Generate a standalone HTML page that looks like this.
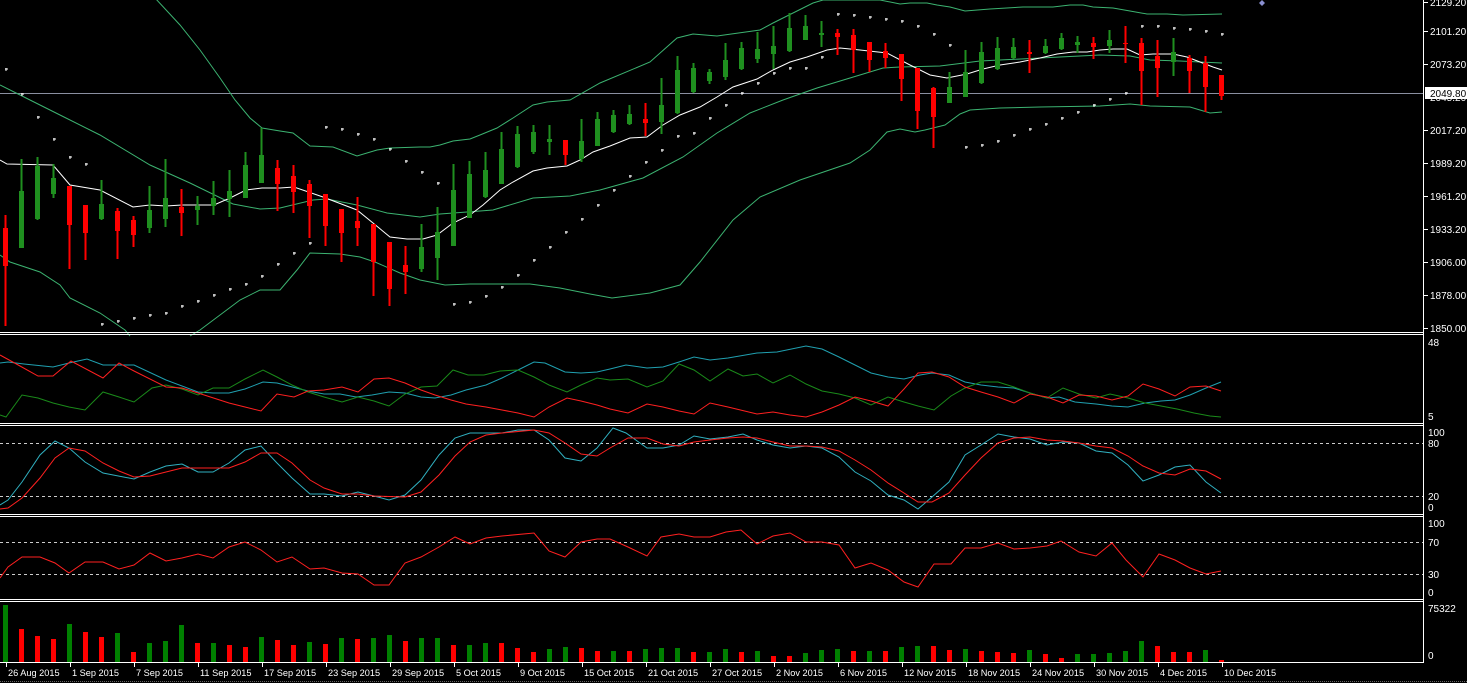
<!DOCTYPE html>
<html><head><meta charset="utf-8"><style>
html,body{margin:0;padding:0;background:#000;}
svg{display:block;font-family:"Liberation Sans",sans-serif;}
</style></head><body>
<svg id="c" width="1467" height="683" viewBox="0 0 1467 683" xmlns="http://www.w3.org/2000/svg">
<rect width="1467" height="683" fill="#000"/>
<g id="g"></g>
</svg>
<script>
var NS="http://www.w3.org/2000/svg",G=document.getElementById('g');
function el(t,a,txt){var e=document.createElementNS(NS,t);for(var k in a)e.setAttribute(k,a[k]);if(txt!=null)e.textContent=txt;G.appendChild(e);return e;}
function pl(pts,col,w){var s=[];for(var i=0;i<pts.length;i+=2)s.push(pts[i]+","+pts[i+1]);el('polyline',{points:s.join(' '),fill:'none',stroke:col,'stroke-width':w||1});}
el('line',{x1:0,y1:93.5,x2:1424,y2:93.5,stroke:'#8a8fa0','stroke-width':1});
pl([155,-2,180,25,200,50,220,78,235,100,250,118,262,128,280,131,293,133,310,146,333,147,357,156,377,150,390,148,420,147,430,147,440,145,453,141,470,139,480,135,497,128,513,118,533,105,547,102,570,100,600,83,650,62,677,38,693,34,717,36,760,30,773,23,813,3,823,0,880,0,900,4,910,3,927,3,937,5,950,7,965,11,990,9,1023,7,1053,7,1070,5,1083,5,1093,7,1113,8,1130,11,1147,14,1167,14,1183,15,1222,14],'#3cb371');
pl([0,85,30,100,60,115,100,135,150,165,190,183,233,204,260,209,280,208,313,200,327,199,357,205,387,213,420,217,440,214,467,212,493,210,533,198,570,196,600,190,643,178,683,157,717,133,750,113,783,100,817,88,850,78,883,68,900,67,940,66,980,61,1000,60,1060,57,1100,55,1130,56,1150,60,1180,61,1200,62,1222,63],'#3cb371');
pl([0,255,10,262,40,272,60,285,70,298,100,313,125,330,130,336],'#3cb371');
pl([190,336,200,330,240,300,260,290,280,290,297,270,310,253,340,254,360,257,375,262,400,273,420,280,445,285,470,284,530,284,560,288,590,294,612,298,650,293,680,285,700,262,733,220,760,197,800,180,850,163,870,150,887,132,900,129,915,132,925,130,945,125,960,114,970,110,1000,108,1040,107,1100,106,1130,104,1150,106,1190,107,1200,110,1210,113,1222,112],'#3cb371');
pl([0,160,7,164,53,165,70,185,100,190,133,207,150,205,166,206,182,205,214,205,230,198,246,190,262,188,280,188,294,187,323,197,357,210,373,223,390,237,407,239,423,239,437,235,453,223,470,215,483,205,500,190,513,182,533,171,547,168,567,166,580,160,593,152,610,146,630,138,647,137,663,125,680,115,700,107,717,97,733,87,757,79,773,70,790,62,807,57,827,50,840,48,860,50,887,53,910,65,930,75,947,78,967,74,983,69,1000,65,1020,62,1040,58,1057,54,1073,52,1087,52,1100,50,1113,49,1127,49,1140,55,1153,54,1173,54,1187,57,1200,62,1213,67,1222,70],'#fff');
var C=[[215,228,266,326,0],[159,191,248,248,1],[157,166,219,220,1],[164,178,194,198,1],[186,186,225,269,0],[205,205,233,260,0],[180,204,219,220,1],[208,211,231,259,0],[216,220,235,247,0],[186,210,228,233,1],[159,198,219,227,1],[189,207,213,236,0],[196,206,210,225,1],[181,198,206,215,1],[170,191,199,217,1],[152,165,198,198,1],[128,155,183,183,1],[160,168,184,211,0],[165,176,192,213,0],[180,184,206,238,0],[194,194,226,246,0],[209,209,233,262,0],[197,221,228,246,0],[224,224,262,296,0],[242,242,289,306,0],[246,265,272,294,0],[224,247,269,272,1],[207,232,258,280,1],[164,190,246,246,1],[161,174,218,218,1],[152,170,197,198,1],[132,149,184,184,1],[126,134,167,168,1],[125,132,152,154,1],[125,139,142,155,1],[140,140,155,165,0],[119,141,159,162,1],[112,119,146,146,1],[110,115,132,133,1],[105,114,124,125,1],[103,119,123,136,0],[78,105,122,134,1],[56,70,113,114,1],[63,68,92,93,1],[69,72,81,84,1],[43,60,77,80,1],[42,48,69,70,1],[32,49,59,63,1],[26,46,54,69,1],[13,28,51,52,1],[15,26,40,40,1],[21,33,35,47,1],[29,33,37,55,0],[29,35,50,73,0],[42,42,60,72,0],[43,51,58,68,0],[54,54,79,101,0],[68,68,111,129,0],[87,88,117,148,0],[72,87,103,103,1],[50,72,97,97,1],[42,52,83,84,1],[37,48,69,70,1],[38,47,58,59,1],[40,52,54,73,0],[39,46,53,54,1],[33,38,49,50,1],[36,42,45,53,1],[37,43,47,59,0],[30,40,46,53,1],[26,43,44,63,0],[38,43,71,105,0],[40,56,68,97,0],[38,52,62,76,1],[55,58,71,93,0],[56,63,87,112,0],[75,75,96,100,0]];
for(var i=0;i<C.length;i++){var c=C[i],x=5+16*i,col=c[4]?'#1f8f1f':'#ff0000';
el('rect',{x:x-0.5,y:c[0],width:2,height:c[3]-c[0],fill:col});
el('rect',{x:x-2,y:c[1],width:5,height:Math.max(1,c[2]-c[1]),fill:col});}
var S=[6,69,22,94,38,117,54,139,70,157,86,164,102,324,118,321,134,318,150,315,166,313,182,306,198,301,214,295,230,289,246,284,262,276,278,264,294,253,310,243,326,127,342,129,358,134,374,139,390,149,406,161,422,172,438,183,454,304,470,302,486,296,502,287,518,275,534,260,550,247,566,232,582,219,598,205,614,190,630,176,646,162,662,150,678,136,694,133,710,118,726,105,742,93,758,83,774,73,790,68,806,68,822,57,838,14,854,15,870,17,886,19,902,21,918,26,934,34,950,45,966,147,982,145,998,141,1014,135,1030,129,1046,124,1062,118,1078,112,1094,105,1110,99,1126,93,1142,26,1158,26,1174,28,1190,29,1206,31,1222,34];
for(var i=0;i<S.length;i+=2){el('rect',{x:S[i]-1,y:S[i+1]-0.5,width:3,height:1,fill:'#fff'});el('rect',{x:S[i]-0.5,y:S[i+1]-1,width:1,height:3,fill:'#fff'});}
pl([0,363,8,362,24,364,53,367,69,363,87,359,103,365,134,365,166,380,198,392,213,393,229,393,245,389,263,382,277,383,308,391,324,394,340,394,356,397,372,395,389,392,405,393,421,397,435,398,451,395,466,390,486,385,502,378,518,370,534,362,545,363,565,372,581,373,597,372,610,369,626,365,647,368,663,367,679,362,694,357,710,360,728,358,757,353,777,352,806,346,822,349,839,357,855,365,871,373,888,377,904,379,920,375,932,373,949,375,965,382,981,385,998,387,1014,388,1030,393,1047,398,1059,397,1075,402,1096,404,1112,406,1128,407,1145,403,1161,401,1175,400,1190,395,1206,388,1221,382],'#20a0b0');
pl([0,415,6,417,22,395,38,398,53,403,69,407,85,410,103,392,119,397,134,402,152,388,166,385,182,389,198,395,213,388,229,388,245,379,263,370,277,377,292,385,308,392,324,397,342,402,358,397,374,401,389,406,405,394,421,387,437,386,453,370,468,375,484,375,500,371,518,370,534,377,549,385,567,392,581,385,597,378,610,380,628,379,647,387,663,381,679,364,694,370,710,381,728,369,743,376,757,374,773,383,790,375,806,384,822,391,839,394,855,398,871,405,888,397,904,402,918,406,934,410,951,396,965,388,981,382,998,382,1014,387,1030,393,1047,398,1063,388,1079,394,1096,398,1110,394,1128,398,1145,403,1161,406,1177,409,1194,413,1210,416,1221,417],'#1a8a1a');
pl([0,355,20,366,38,376,53,376,71,361,103,378,119,363,134,371,166,387,182,388,198,393,229,403,245,407,261,411,277,394,294,397,308,391,324,390,342,387,358,392,374,379,389,378,405,383,421,390,435,395,451,400,466,404,486,407,502,410,518,413,534,417,549,407,567,398,581,401,597,405,610,409,628,413,647,404,663,407,679,411,694,414,710,403,728,407,757,414,773,412,790,415,806,417,822,412,839,405,855,397,871,401,888,406,904,389,918,373,932,372,949,377,965,387,981,392,998,397,1014,403,1030,394,1047,397,1063,403,1079,395,1096,396,1112,400,1128,396,1143,384,1159,389,1175,396,1190,387,1206,386,1221,391],'#ff2020');
el('line',{x1:0,y1:443.5,x2:1424,y2:443.5,stroke:'#ccc','stroke-dasharray':'3,3'});
el('line',{x1:0,y1:496.5,x2:1424,y2:496.5,stroke:'#ccc','stroke-dasharray':'3,3'});
pl([0,505,8,500,22,482,40,455,55,441,69,448,85,462,103,473,134,479,150,472,166,466,182,464,198,472,213,472,229,463,245,450,261,446,277,463,292,478,310,494,324,494,342,496,358,492,374,496,389,500,405,495,421,480,439,455,455,438,470,433,502,433,518,430,534,430,549,440,565,458,581,461,597,448,613,428,626,433,647,448,663,448,679,445,694,436,710,439,728,437,743,434,757,440,773,445,790,448,806,446,822,448,839,457,855,472,871,481,888,495,904,500,918,509,932,497,949,482,965,455,981,445,998,434,1014,437,1030,439,1047,445,1063,442,1079,443,1096,451,1112,453,1128,465,1143,481,1159,475,1175,467,1190,465,1206,482,1221,493],'#30b0c0');
pl([0,509,8,508,22,498,40,478,55,458,69,448,85,451,103,463,119,471,134,477,150,476,166,472,182,468,213,468,229,468,245,462,261,453,277,453,292,463,310,480,324,488,342,494,358,494,374,496,405,497,421,492,439,475,455,456,470,442,486,435,502,433,534,430,549,433,565,443,581,454,597,456,610,448,628,438,647,438,663,444,679,446,694,442,710,440,728,438,743,437,757,438,773,442,790,446,806,446,822,447,839,451,855,460,871,470,888,483,904,493,918,502,932,502,949,493,965,475,981,458,998,443,1014,438,1030,437,1047,440,1063,441,1079,443,1096,446,1112,448,1128,456,1143,466,1159,473,1175,475,1190,469,1206,471,1221,479],'#ff2020');
el('line',{x1:0,y1:542.5,x2:1424,y2:542.5,stroke:'#ccc','stroke-dasharray':'3,3'});
el('line',{x1:0,y1:574.5,x2:1424,y2:574.5,stroke:'#ccc','stroke-dasharray':'3,3'});
pl([0,578,8,567,22,557,40,557,55,563,69,573,85,562,103,562,119,569,134,565,150,553,166,561,182,558,198,554,213,558,229,547,245,542,261,550,277,562,292,557,310,569,324,568,342,573,358,574,374,585,389,585,405,563,421,557,439,547,455,537,470,544,486,538,502,536,534,533,549,551,565,557,581,542,597,539,610,539,628,547,647,556,661,537,679,534,694,537,710,537,726,532,741,530,757,544,773,536,790,533,806,542,822,542,839,545,855,568,871,563,888,570,904,582,918,587,934,564,951,564,965,548,981,548,998,543,1014,549,1030,548,1047,546,1061,541,1079,552,1096,556,1112,543,1126,560,1143,577,1159,554,1175,560,1190,568,1206,574,1221,571],'#ff2020');
var V=[[605,1],[629,0],[636,0],[639,0],[624,1],[632,0],[637,0],[633,1],[652,0],[643,1],[641,1],[625,1],[643,0],[643,1],[645,0],[647,0],[637,1],[640,0],[645,0],[642,1],[644,0],[638,1],[639,0],[638,1],[635,1],[641,0],[638,1],[638,1],[645,0],[645,1],[643,1],[643,0],[648,0],[652,0],[649,1],[647,1],[648,0],[651,0],[651,1],[651,0],[649,1],[648,1],[648,1],[652,0],[652,1],[649,1],[652,0],[651,1],[656,0],[656,0],[653,1],[650,1],[649,1],[651,0],[651,1],[651,0],[647,1],[646,1],[646,0],[650,0],[649,1],[651,0],[652,0],[653,0],[650,1],[654,0],[658,0],[654,1],[654,1],[653,1],[651,1],[641,1],[646,0],[652,0],[652,0],[650,1],[660,0]];
for(var i=0;i<V.length;i++){var x=5+16*i;el('rect',{x:x-2,y:V[i][0],width:5,height:662-V[i][0],fill:V[i][1]?'#008000':'#ff0000'});}
[[332,334],[423,425],[514,516],[599,601]].forEach(function(p){p.forEach(function(y){el('line',{x1:0,y1:y+0.5,x2:1424,y2:y+0.5,stroke:'#fff'});});});
el('line',{x1:0,y1:662.5,x2:1424,y2:662.5,stroke:'#fff'});
el('line',{x1:1423.5,y1:0,x2:1423.5,y2:663,stroke:'#fff'});
el('line',{x1:0,y1:681.5,x2:1467,y2:681.5,stroke:'#666','stroke-dasharray':'1,1'});
var P=[[2,'2129.20'],[31,'2101.20'],[64,'2073.20'],[130,'2017.20'],[163,'1989.20'],[196,'1961.20'],[229,'1933.20'],[262,'1906.00'],[295,'1878.00'],[328,'1850.00']];
P.forEach(function(p){el('line',{x1:1424,y1:p[0]+0.5,x2:1428,y2:p[0]+0.5,stroke:'#fff'});el('text',{x:1430,y:p[0]+4,fill:'#fff','font-size':'10px'},p[1]);});
el('text',{x:1430,y:101,fill:'#fff','font-size':'10px'},'2045.20');
el('rect',{x:1425,y:87,width:42,height:12,fill:'#fff'});
el('text',{x:1430,y:97,fill:'#000','font-size':'10px'},'2049.80');
var L=[[342,'48'],[416,'5'],[432,'100'],[443,'80'],[496,'20'],[507,'0'],[523,'100'],[542,'70'],[574,'30'],[592,'0'],[608,'75322'],[655,'0']];
L.forEach(function(p){el('text',{x:1428,y:p[0]+4,fill:'#fff','font-size':'10px'},p[1]);});
var D=['26 Aug 2015','1 Sep 2015','7 Sep 2015','11 Sep 2015','17 Sep 2015','23 Sep 2015','29 Sep 2015','5 Oct 2015','9 Oct 2015','15 Oct 2015','21 Oct 2015','27 Oct 2015','2 Nov 2015','6 Nov 2015','12 Nov 2015','18 Nov 2015','24 Nov 2015','30 Nov 2015','4 Dec 2015','10 Dec 2015'];
D.forEach(function(d,i){var x=6+64*i;el('line',{x1:x+0.5,y1:662,x2:x+0.5,y2:667,stroke:'#fff'});el('text',{x:x+2,y:676,fill:'#fff','font-size':'9.2px'},d);});
el('path',{d:'M1262 0 L1265 3 L1262 6 L1259 3 Z',fill:'#8a8fd0'});
</script>
</body></html>
